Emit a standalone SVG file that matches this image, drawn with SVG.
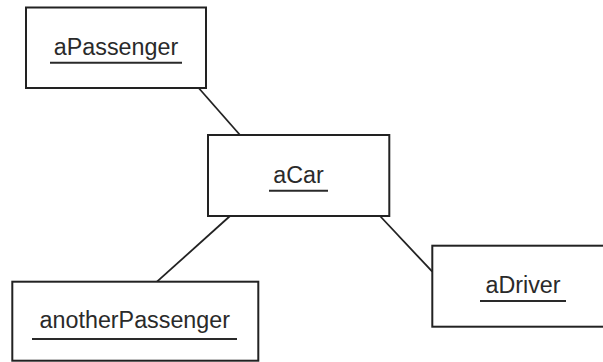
<svg xmlns="http://www.w3.org/2000/svg" width="603" height="362" viewBox="0 0 603 362">
<style>
.box{fill:#fff;stroke:#222;stroke-width:2}
.lbl{font-family:"Liberation Sans",Arial,sans-serif;font-size:23.3px;fill:#2a2a2a;text-anchor:middle}
.ul{stroke:#2a2a2a;stroke-width:2}
.conn{stroke:#222;stroke-width:1.8;fill:none}
</style>
<rect width="603" height="362" fill="#fff"/>
<g id="connectors">
<line class="conn" x1="198.7" y1="88" x2="240" y2="135"/>
<line class="conn" x1="230" y1="216" x2="157" y2="281.7"/>
<line class="conn" x1="380" y1="216" x2="432.3" y2="271.7"/>
</g>
<g id="aPassenger">
<rect class="box" x="26" y="7.5" width="180" height="80.5"/>
<text class="lbl" x="116" y="55">aPassenger</text>
<line class="ul" x1="50" y1="62.7" x2="182" y2="62.7"/>
</g>
<g id="aCar">
<rect class="box" x="208" y="135" width="181.3" height="81"/>
<text class="lbl" x="298.5" y="183">aCar</text>
<line class="ul" x1="269" y1="190.7" x2="328" y2="190.7"/>
</g>
<g id="anotherPassenger">
<rect class="box" x="12.3" y="281.7" width="246" height="79"/>
<text class="lbl" x="134.8" y="328">anotherPassenger</text>
<line class="ul" x1="32" y1="339" x2="237" y2="339"/>
</g>
<g id="aDriver">
<rect class="box" x="432.3" y="245.7" width="180" height="81"/>
<text class="lbl" x="523" y="292.7">aDriver</text>
<line class="ul" x1="480" y1="301" x2="566" y2="301"/>
</g>
</svg>
